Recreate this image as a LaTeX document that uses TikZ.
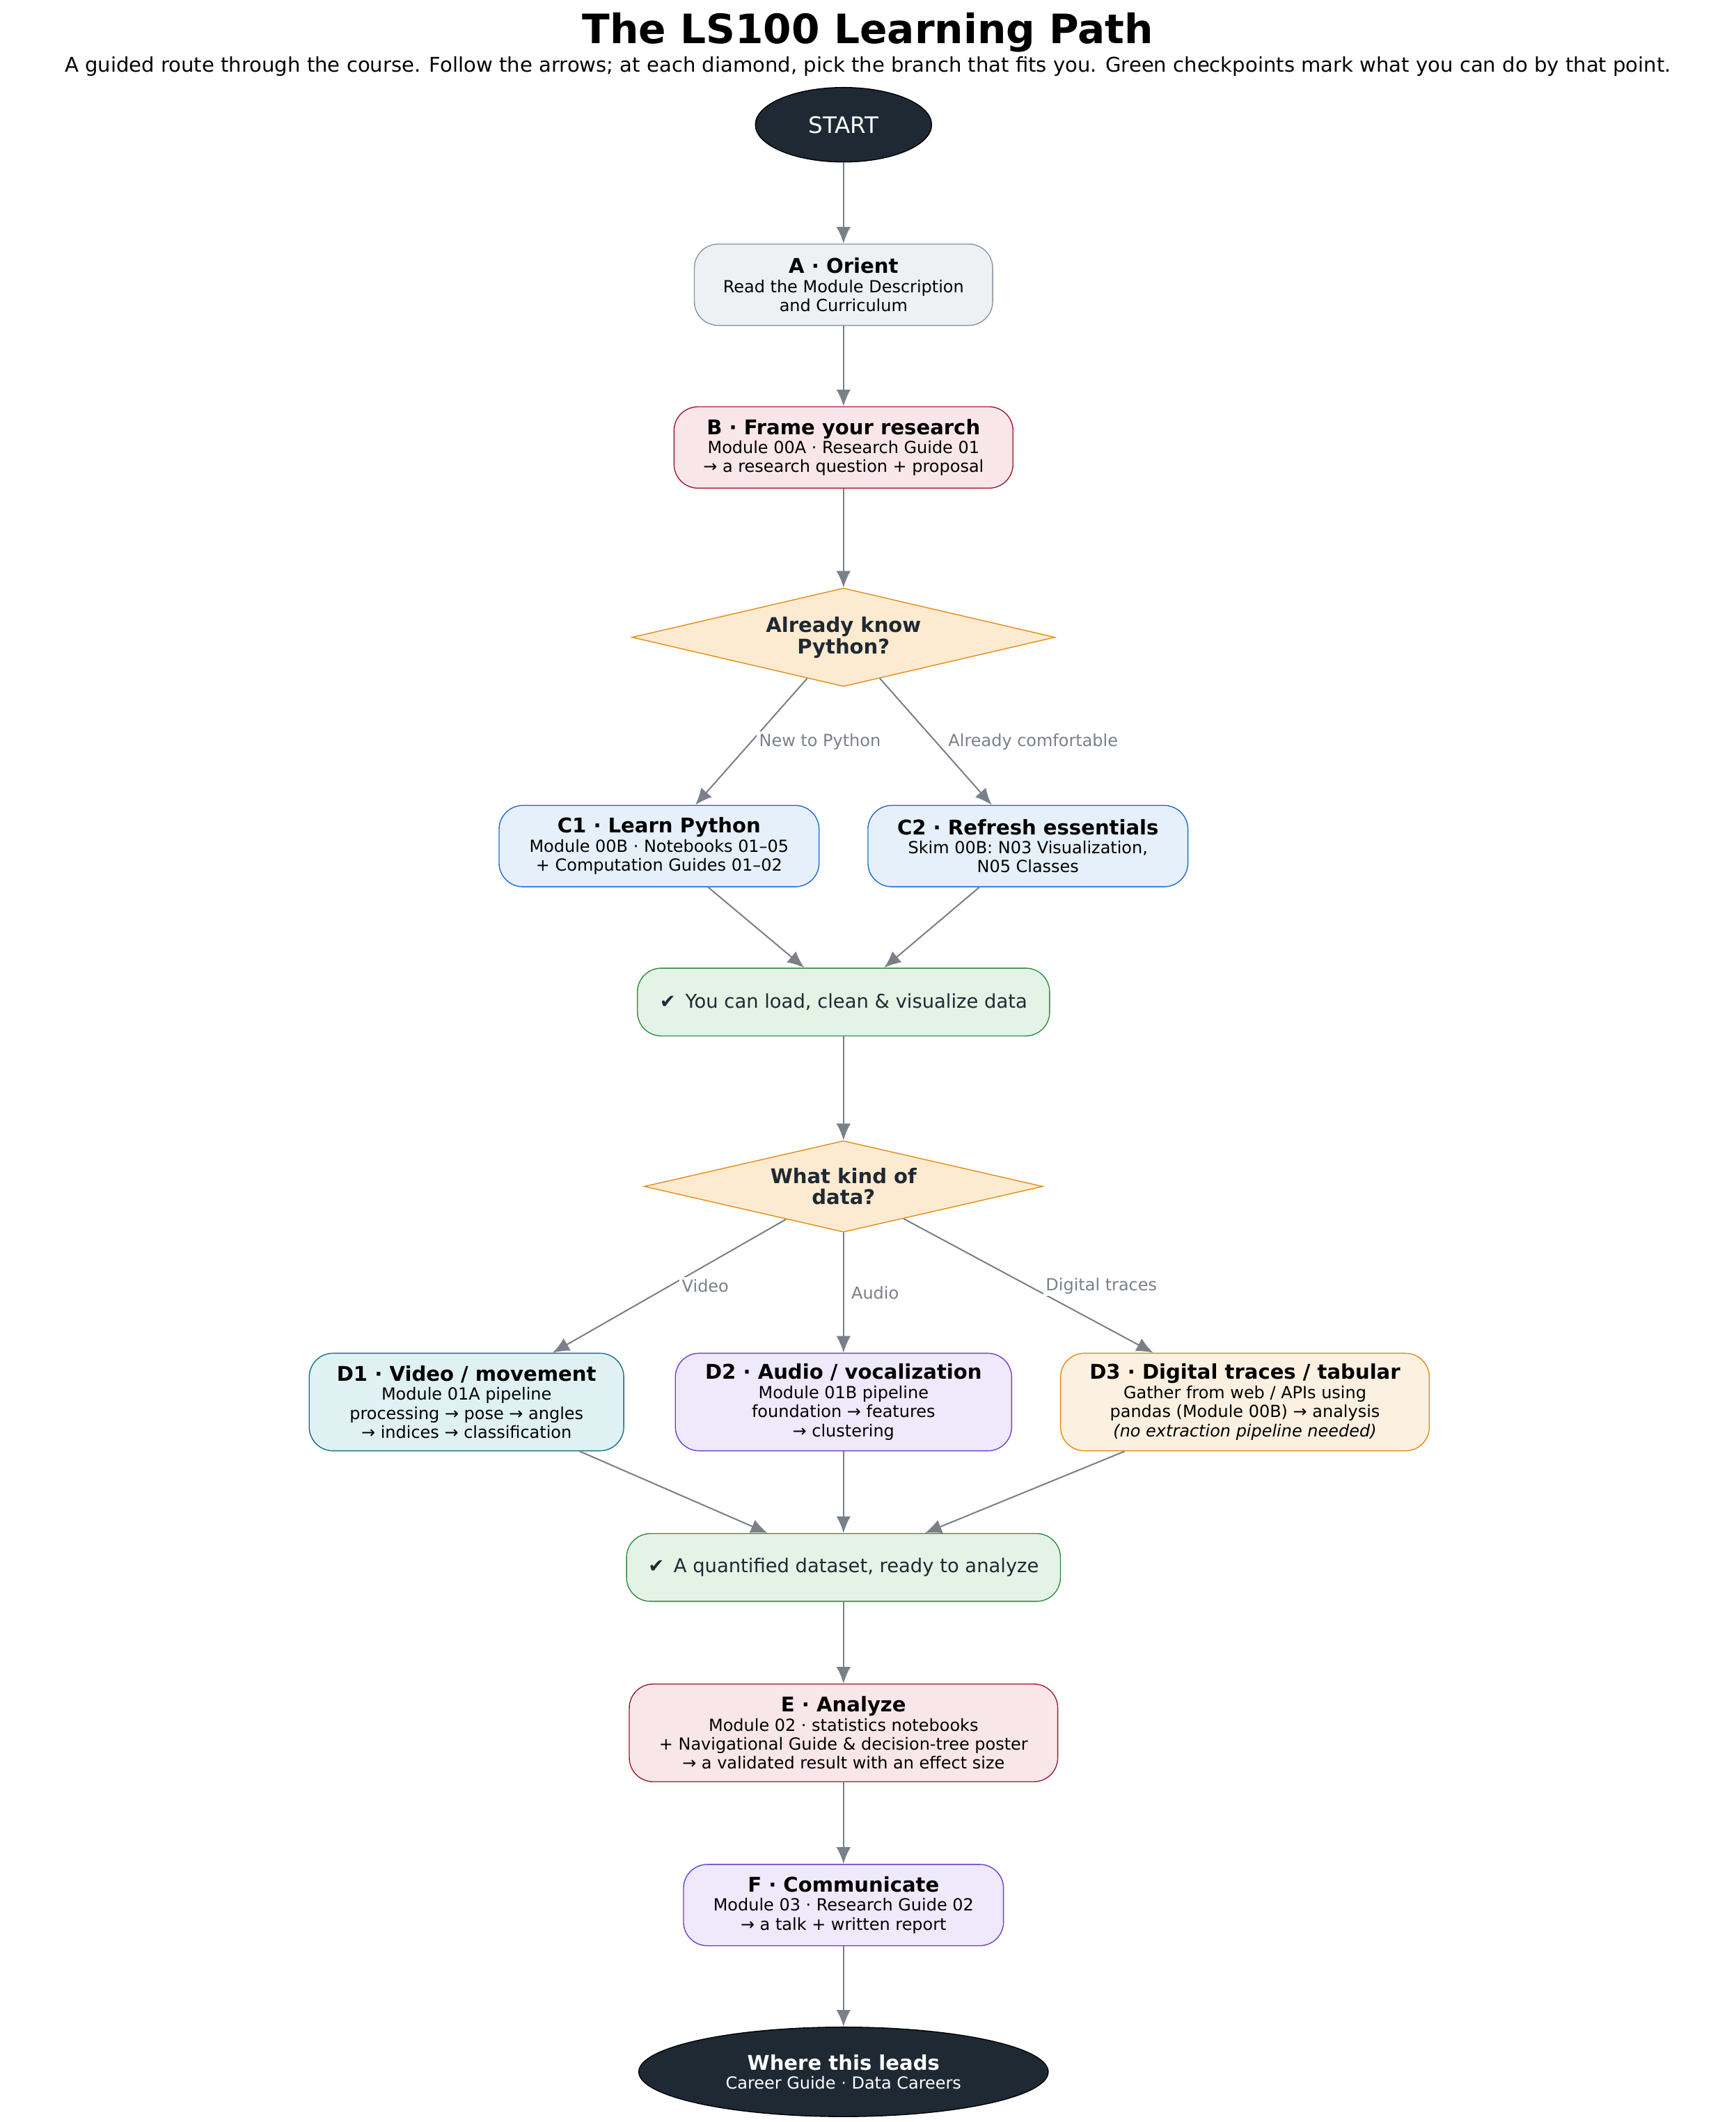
\documentclass[tikz,border=0pt]{standalone}
\usepackage{fontspec}
\setmainfont{DejaVu Sans}
\usetikzlibrary{shapes.geometric,arrows.meta,positioning}
\definecolor{inkdark}{HTML}{1F2933}
\definecolor{edgegray}{HTML}{7A808A}
\definecolor{greyfill}{HTML}{EDF1F4}\definecolor{greyline}{HTML}{8A94A0}
\definecolor{redfill}{HTML}{F9E6EA}\definecolor{redline}{HTML}{A0182E}
\definecolor{orfill}{HTML}{FCEBD0}\definecolor{orline}{HTML}{E88A10}
\definecolor{bluefill}{HTML}{E6F0FB}\definecolor{blueline}{HTML}{1A6AD0}
\definecolor{grfill}{HTML}{E3F3E6}\definecolor{grline}{HTML}{2E8B3E}
\definecolor{tealfill}{HTML}{E0F1F3}\definecolor{tealline}{HTML}{137080}
\definecolor{vifill}{HTML}{EEE9FB}\definecolor{viline}{HTML}{6A3FD0}
\definecolor{tanfill}{HTML}{FCF0E0}
\tikzset{
  stage/.style={draw, rounded corners=10pt, align=center, inner sep=2pt, font=\fontsize{7}{8}\selectfont},
  check/.style={draw=grline, fill=grfill, rounded corners=10pt, minimum height=1cm, font=\fontsize{8}{9}\selectfont, text=inkdark},
  choice/.style={draw=orline, fill=orfill, diamond, aspect=3.05, inner sep=1pt, align=center, font=\fontsize{8.5}{9}\selectfont\bfseries, text=inkdark},
  term/.style={ellipse, draw=black, fill=inkdark, text=white, align=center},
  flow/.style={-{Latex[length=7pt,width=6pt]}, edgegray, line width=0.6pt},
  elabel/.style={font=\fontsize{7}{8}\selectfont, fill=white, inner sep=1pt}
}
\newcommand{\hd}[1]{{\fontsize{8.5}{10}\selectfont\bfseries #1}\\}
\begin{document}
\begin{tikzpicture}[x=0.02cm, y=-0.02cm]
\useasboundingbox (0,0) rectangle (1280,1565);
\node[font=\fontsize{17}{18}\selectfont\bfseries] (title) at (640,24) {The LS100 Learning Path};
\node[font=\fontsize{8.5}{9}\selectfont] (sub) at (640,49) {A guided route through the course. Follow the arrows; at each diamond, pick the branch that fits you. Green checkpoints mark what you can do by that point.};

\node[term, minimum width=2.6cm, minimum height=1.1cm, font=\fontsize{9.5}{10}\selectfont] (start) at (622,92) {START};
\node[stage, draw=greyline, fill=greyfill, minimum width=4.4cm, minimum height=1.2cm] (A) at (622,210) {\hd{A · Orient}Read the Module Description\\and Curriculum};
\node[stage, draw=redline, fill=redfill, minimum width=5cm, minimum height=1.2cm] (B) at (622,330) {\hd{B · Frame your research}Module 00A · Research Guide 01\\→ a research question + proposal};
\node[choice, minimum width=6.24cm] (Q1) at (622,470) {Already know\\Python?};
\node[stage, draw=blueline, fill=bluefill, minimum width=4.72cm, minimum height=1.2cm] (C1) at (486,624) {\hd{C1 · Learn Python}Module 00B · Notebooks 01–05\\+ Computation Guides 01–02};
\node[stage, draw=blueline, fill=bluefill, minimum width=4.72cm, minimum height=1.2cm] (C2) at (758,624) {\hd{C2 · Refresh essentials}Skim 00B: N03 Visualization,\\N05 Classes};
\node[check, minimum width=6.08cm] (K1) at (622,739) {✔\enspace You can load, clean \& visualize data};
\node[choice, minimum width=5.88cm] (Q2) at (622,875) {What kind of\\data?};
\node[stage, draw=tealline, fill=tealfill, minimum width=4.64cm, minimum height=1.44cm] (D1) at (344,1034) {\hd{D1 · Video / movement}Module 01A pipeline\\processing → pose → angles\\→ indices → classification};
\node[stage, draw=viline, fill=vifill, minimum width=4.96cm, minimum height=1.44cm] (D2) at (622,1034) {\hd{D2 · Audio / vocalization}Module 01B pipeline\\foundation → features\\→ clustering};
\node[stage, draw=orline, fill=tanfill, minimum width=5.44cm, minimum height=1.44cm] (D3) at (918,1034) {\hd{D3 · Digital traces / tabular}Gather from web / APIs using\\pandas (Module 00B) → analysis\\\textit{(no extraction pipeline needed)}};
\node[check, minimum width=6.4cm] (K2) at (622,1156) {✔\enspace A quantified dataset, ready to analyze};
\node[stage, draw=redline, fill=redfill, minimum width=6.32cm, minimum height=1.44cm] (E) at (622,1278) {\hd{E · Analyze}Module 02 · statistics notebooks\\+ Navigational Guide \& decision-tree poster\\→ a validated result with an effect size};
\node[stage, draw=viline, fill=vifill, minimum width=4.72cm, minimum height=1.2cm] (F) at (622,1405) {\hd{F · Communicate}Module 03 · Research Guide 02\\→ a talk + written report};
\node[term, minimum width=6.04cm, minimum height=1.32cm, font=\fontsize{7}{8}\selectfont] (end) at (622,1528) {{\fontsize{8.5}{10}\selectfont\bfseries Where this leads}\\Career Guide · Data Careers};

\draw[flow] (start) -- (A);
\draw[flow] (A) -- (B);
\draw[flow] (B) -- (Q1);
\draw[flow] (Q1) -- node[elabel, right=2pt] {New to Python} (C1);
\draw[flow] (Q1) -- node[elabel, right=4pt] {Already comfortable} (C2);
\draw[flow] (C1) -- (K1.north -| 593,0);
\draw[flow] (C2) -- (K1.north -| 652,0);
\draw[flow] (K1) -- (Q2);
\draw[flow] (Q2) -- node[elabel, right=4pt] {Video} (D1);
\draw[flow] (Q2) -- node[elabel, right=2pt] {Audio} (D2);
\draw[flow] (Q2) -- node[elabel, right=6pt] {Digital traces} (D3);
\draw[flow] (D1) -- (K2.north -| 566,0);
\draw[flow] (D2) -- (K2);
\draw[flow] (D3) -- (K2.north -| 682,0);
\draw[flow] (K2) -- (E);
\draw[flow] (E) -- (F);
\draw[flow] (F) -- (end);
\end{tikzpicture}
\end{document}
